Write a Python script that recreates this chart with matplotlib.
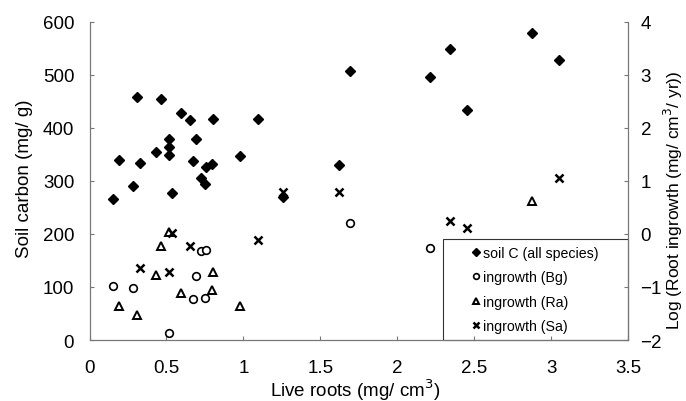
import numpy as np
import matplotlib
matplotlib.use("Agg")
import matplotlib.pyplot as plt
from matplotlib.patches import Rectangle

plt.rcParams['font.family'] = ['Liberation Sans', 'DejaVu Sans']

# live roots (mg/cm3), soil C (mg/g) and log root ingrowth, per species
bg_roots = [0.15, 0.285, 0.515, 0.673, 0.693, 0.726, 0.752, 0.758, 1.69, 2.21]
bg_soilc = [265, 291, 348, 338, 379, 305, 294, 326, 507, 495]
bg_ingrowth = [-0.98, -1.02, -1.86, -1.22, -0.79, -0.33, -1.20, -0.30, 0.20, -0.27]

ra_roots = [0.19, 0.308, 0.429, 0.462, 0.515, 0.593, 0.794, 0.801, 0.978, 2.875]
ra_soilc = [340, 457, 355, 454, 379, 428, 331, 416, 346, 578]
ra_ingrowth = [-1.36, -1.53, -0.77, -0.23, 0.03, -1.11, -1.06, -0.72, -1.36, 0.61]

sa_roots = [0.329, 0.518, 0.536, 0.655, 1.097, 1.255, 1.619, 2.341, 2.455, 3.051]
sa_soilc = [333, 364, 277, 414, 417, 270, 330, 548, 434, 528]
sa_ingrowth = [-0.64, -0.71, 0.01, -0.23, -0.115, 0.79, 0.78, 0.25, 0.105, 1.06]

all_roots = bg_roots + ra_roots + sa_roots
all_soilc = bg_soilc + ra_soilc + sa_soilc

fig = plt.figure(figsize=(6.86, 4.02), dpi=100)
ax = fig.add_axes([0.1305, 0.1517, 0.785, 0.7923])
ax2 = ax.twinx()

h1, = ax.plot(all_roots, all_soilc, 'D', color='black', ms=5.5, ls='none',
              label='soil C (all species)')
h2, = ax2.plot(bg_roots, bg_ingrowth, 'o', mfc='white', mec='black', mew=1.2,
               ms=5.5, ls='none', label='ingrowth (Bg)')
h3, = ax2.plot(ra_roots, ra_ingrowth, '^', mfc='white', mec='black', mew=1.4,
               ms=5.5, ls='none', label='ingrowth (Ra)')
h4, = ax2.plot(sa_roots, sa_ingrowth, 'x', color='black', mew=1.8, ms=6,
               ls='none', label='ingrowth (Sa)')

ax.set_xlim(0, 3.5)
ax.set_ylim(0, 600)
ax2.set_ylim(-2, 4)
ax.set_xticks(np.arange(0, 3.51, 0.5))
ax.set_xticklabels(['0', '0.5', '1', '1.5', '2', '2.5', '3', '3.5'])
ax.set_yticks(range(0, 601, 100))
ax2.set_yticks(range(-2, 5))

for a in (ax, ax2):
    a.spines['top'].set_visible(False)
    for s in ('left', 'right', 'bottom'):
        a.spines[s].set_color('#777777')
        a.spines[s].set_linewidth(0.8)
ax.tick_params(axis='both', direction='in', length=3, color='#777777',
               labelsize=13.5)
ax.tick_params(axis='y', pad=11)
ax.tick_params(axis='x', pad=14)
ax2.tick_params(axis='y', direction='in', length=3, color='#777777',
                labelsize=13.5, pad=9)

ax.set_xlabel('Live roots (mg/ cm$^3$)', fontsize=13.5)
ax.set_ylabel('Soil carbon (mg/ g)', fontsize=13.5)
ax2.set_ylabel('Log (Root ingrowth (mg/ cm$^3$/ yr))', fontsize=12.5)
ax.xaxis.set_label_coords(0.493, -0.115)
ax.yaxis.set_label_coords(-0.105, 0.509)
ax2.yaxis.set_label_coords(1.063, 0.443)

# legend box in lower right
bx0, by0, bw, bh = 0.6565, 0.0, 0.3435, 0.317
ax2.add_patch(Rectangle((bx0, by0), bw, bh, transform=ax2.transAxes,
                        fill=False, ec='#333333', lw=0.8, clip_on=False))
ax2.legend(handles=[h1, h2, h3, h4], loc='center',
           bbox_to_anchor=(bx0, by0, bw, bh), bbox_transform=ax2.transAxes,
           frameon=False, fontsize=10.2, markerscale=0.75, handlelength=0.5,
           handletextpad=0.3, labelspacing=0.72, borderpad=0.2)

fig.savefig('out.png', dpi=100)
